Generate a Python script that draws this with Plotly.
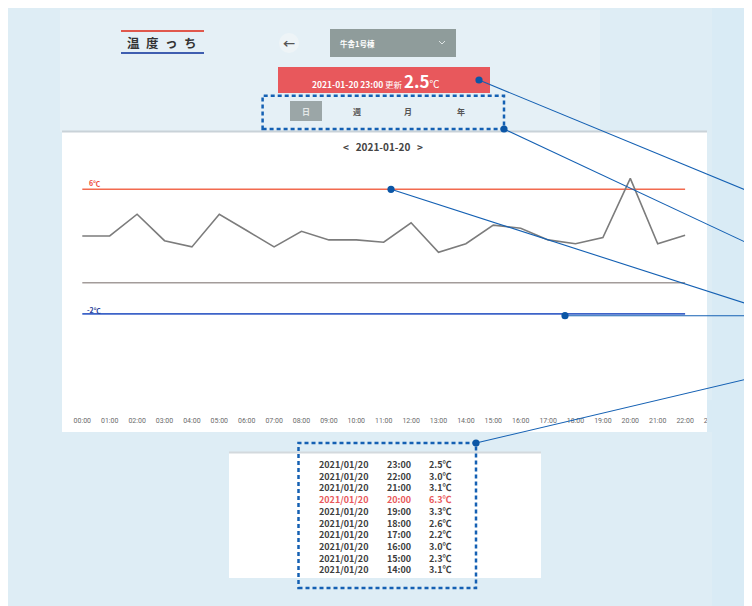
import plotly.graph_objects as go

# ---------------- data ----------------
hours = ["00:00", "01:00", "02:00", "03:00", "04:00", "05:00", "06:00", "07:00",
         "08:00", "09:00", "10:00", "11:00", "12:00", "13:00", "14:00", "15:00",
         "16:00", "17:00", "18:00", "19:00", "20:00", "21:00", "22:00", "23:00"]
temps = [3.0, 3.0, 4.4, 2.7, 2.3, 4.4, 3.35, 2.3, 3.3, 2.75, 2.75, 2.6,
         3.85, 1.95, 2.5, 3.7, 3.5, 2.75, 2.5, 2.9, 6.7, 2.5, 3.05]
upper_limit = 6
lower_limit = -2
base_line = 0

table_dates = ["2021/01/20"] * 10
table_times = ["23:00", "22:00", "21:00", "20:00", "19:00", "18:00", "17:00", "16:00", "15:00", "14:00"]
table_temps = ["2.5℃", "3.0℃", "3.1℃", "6.3℃", "3.3℃", "2.6℃", "2.2℃", "3.0℃", "2.3℃", "3.1℃"]
alert_row = "20:00"

current_date = "2021-01-20"
updated_at = "2021-01-20 23:00"
current_temp = "2.5"
tabs = ["日", "週", "月", "年"]
selected_tab = "日"
place = "牛舎1号棟"
logo = ["温", "度", "っ", "ち"]

# ---------------- geometry helpers (page pixels) ----------------
OFF = 8                         # page body margin
W, H = 752 - OFF, 606 - OFF
L, R, T, B = 68, 726, 160, 412  # plot area in page pixels
px0, pxs = 82.3, 27.4           # pixel of hour index 0, pixels per hour
y6, y0 = 189.3, 282.7           # pixel rows of 6 and 0 degrees
dps = (y0 - y6) / 6.0
x_range = [(L - px0) / pxs, (R - px0) / pxs]
y_range = [(y0 - B) / dps, (y0 - T) / dps]


def X(px):
    return (px - L) / (R - L)


def Y(py):
    return (B - py) / (B - T)


BG = "#deedf5"
BLUE = "#1460b3"
JP = "Noto Sans CJK JP"

fig = go.Figure()

xs = list(range(len(temps)))
last = len(temps) - 1
fig.add_trace(go.Scatter(x=[0, last], y=[base_line, base_line], mode="lines",
                         line=dict(color="#a39c9a", width=1.6), hoverinfo="skip"))
fig.add_trace(go.Scatter(x=[0, last], y=[upper_limit, upper_limit], mode="lines",
                         line=dict(color="#f26a4f", width=1.6), hoverinfo="skip"))
fig.add_trace(go.Scatter(x=[0, last], y=[lower_limit, lower_limit], mode="lines",
                         line=dict(color="#3d63c8", width=1.6), hoverinfo="skip"))
fig.add_trace(go.Scatter(x=xs, y=temps, mode="lines",
                         line=dict(color="#7c7c7c", width=1.6), hoverinfo="skip"))

shapes = []
ann = []


def rect(x0, y0_, x1, y1, fill, layer="below", line=None):
    shapes.append(dict(type="rect", xref="paper", yref="paper",
                       x0=X(x0), x1=X(x1), y0=Y(y1), y1=Y(y0_),
                       fillcolor=fill, line=line or dict(width=0), layer=layer))


def seg(x0, y0_, x1, y1, color, width=1, layer="above"):
    shapes.append(dict(type="line", xref="paper", yref="paper",
                       x0=X(x0), x1=X(x1), y0=Y(y0_), y1=Y(y1),
                       line=dict(color=color, width=width), layer=layer))


def dot(cx, cy, r=3.6):
    shapes.append(dict(type="circle", xref="paper", yref="paper",
                       x0=X(cx - r), x1=X(cx + r), y0=Y(cy + r), y1=Y(cy - r),
                       fillcolor="#0b56a6", line=dict(width=0), layer="above"))


def text(px, py, s, size, color, bold=False, xa="center", family=JP, align="center"):
    ann.append(dict(xref="paper", yref="paper", x=X(px), y=Y(py),
                    text=(f"<b>{s}</b>" if bold else s), align=align,
                    showarrow=False, xanchor=xa, yanchor="middle", borderpad=0,
                    font=dict(size=size, color=color, family=family)))


# background panels
rect(60, 10, 600, 132, "#e5f0f6")
rect(712, 0, 800, 700, "#d9ebf5")
# chart card
rect(62, 131, 707, 432, "#ffffff")
seg(62, 131.5, 707, 131.5, "#c9d2d8", 2, layer="below")
# table card
rect(229, 452, 541, 578, "#ffffff")
seg(229, 452.5, 541, 452.5, "#d3d9dd", 2, layer="below")

# cover the clipped last tick label at the card edge
rect(707, 400, 740, 432, "#d9ebf5", layer="above")

# logo
seg(121, 31, 204, 31, "#e0584c", 2)
seg(121, 53, 204, 53, "#3f5eb0", 2)
for i, ch in enumerate(logo):
    text(133 + i * 19, 42, ch, 12.5, "#333333", bold=True)

# back arrow
shapes.append(dict(type="circle", xref="paper", yref="paper", x0=X(279), x1=X(299), y0=Y(53), y1=Y(33),
                   fillcolor="#eef4f7", line=dict(width=0), layer="below"))
text(289, 43, "←", 12, "#555555", bold=True)

# dropdown
rect(330, 29, 456, 57, "#8f9c9b")
text(339, 43, place, 7.5, "#ffffff", bold=True, xa="left")
shapes.append(dict(type="path", xref="paper", yref="paper",
                   path=f"M {X(439)} {Y(41)} L {X(442)} {Y(44)} L {X(445)} {Y(41)}",
                   line=dict(color="#dfe5e5", width=1), layer="above"))

# current value banner
rect(278, 67, 490, 93, "#e8585c")
text(376, 80, f"<b>{updated_at}</b> 更新 <b><span style='font-size:17px'>{current_temp}</span></b><span style='font-size:10px'>℃</span>",
     8.5, "#ffffff")

# tabs
tab_x = [306, 357, 408, 461]
for tx, tb in zip(tab_x, tabs):
    if tb == selected_tab:
        rect(290, 101, 322, 121, "#9ba6a7")
        text(tx, 111, tb, 8, "#e4e8e8", bold=True)
    else:
        text(tx, 111, tb, 8, "#555555", bold=True)

# date navigation
text(383, 146, f"&lt;&nbsp;&nbsp;&nbsp;{current_date}&nbsp;&nbsp;&nbsp;&gt;", 10, "#444444", bold=True)

# threshold labels
text(88, 182.5, f"{upper_limit}℃", 7, "#ee4a39", bold=True, xa="left")
text(86, 310, f"{lower_limit}℃", 7, "#2a3f9a", bold=True, xa="left")

# table (one multi-line text per column)
ALERT = "#e8585a"


def column(values):
    out = []
    for t, v in zip(table_times, values):
        out.append(f"<span style='color:{ALERT}'>{v}</span>" if t == alert_row else v)
    return "<br>".join(out)


table_cy = 517
text(318, table_cy, column(table_dates), 9, "#3d3d3d", bold=True, xa="left", align="left")
text(386, table_cy, column(table_times), 9, "#3d3d3d", bold=True, xa="left", align="left")
text(453, table_cy, column(table_temps), 9, "#3d3d3d", bold=True, xa="right", align="right")

# dashed callout boxes
dash = "4px,3px"
for (bx0, by0, bx1, by1) in [(262.6, 95.7, 504, 129), (298.5, 443, 476, 588)]:
    shapes.append(dict(type="rect", xref="paper", yref="paper",
                       x0=X(bx0), x1=X(bx1), y0=Y(by1), y1=Y(by0),
                       line=dict(color=BLUE, width=2.5, dash=dash), layer="above"))

# leader lines
for (ax, ay, bx, by) in [(479, 80, 760, 196), (504, 129, 760, 249), (391, 189.3, 760, 308),
                         (565, 315.7, 760, 315.7), (476, 443, 760, 376)]:
    seg(ax, ay, bx, by, BLUE, 1.1)
for (ax, ay) in [(479, 80), (504, 129), (391, 189.3), (565, 315.7), (476, 443)]:
    dot(ax, ay)

fig.update_layout(
    width=W, height=H,
    margin=dict(l=L - OFF, r=W - (R - OFF), t=T - OFF, b=H - (B - OFF)),
    paper_bgcolor=BG, plot_bgcolor="rgba(0,0,0,0)",
    showlegend=False,
    shapes=shapes, annotations=ann,
    xaxis=dict(range=x_range, tickmode="array", tickvals=list(range(len(hours))), ticktext=hours,
               showgrid=False, zeroline=False, showline=False, ticks="", ticklabelstandoff=3,
               tickfont=dict(size=7, color="#6a6a6a", family="Roboto"), fixedrange=True),
    yaxis=dict(range=y_range, showgrid=False, zeroline=False, showline=False,
               showticklabels=False, ticks="", fixedrange=True),
)

fig.write_html("out.html")
